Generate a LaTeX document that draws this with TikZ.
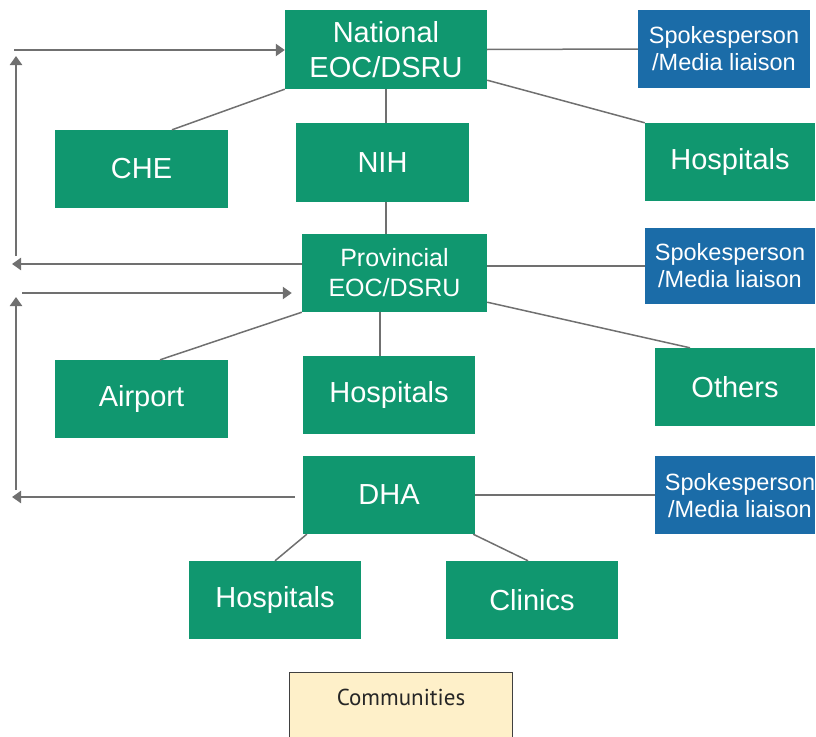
\documentclass[tikz,border=0pt]{standalone}
\usepackage{fontspec}
\setmainfont{Liberation Sans}
\newfontfamily\commfont{PT Sans}
\usetikzlibrary{arrows.meta,positioning,calc}
\definecolor{boxgreen}{HTML}{10976F}
\definecolor{boxblue}{HTML}{1B6CA8}
\definecolor{linegray}{HTML}{707070}
\definecolor{commfill}{HTML}{FEF0C9}

\begin{document}
\begin{tikzpicture}[x = 1pt, y = -1pt,
  greenbox/.style={rectangle,fill=boxgreen,text=white,inner sep=0pt,align=center,font=\fontsize{29}{35}\selectfont},
  bluebox/.style={rectangle,fill=boxblue,text=white,inner sep=0pt,align=center,font=\fontsize{23.5}{27}\selectfont},
  link/.style={draw=linegray,line width=1.5pt},
  flow/.style={draw=linegray,line width=2.3pt,-{Triangle[length=9pt,width=12pt]}}]
\path[use as bounding box] (0,0) rectangle (816,736);
\node[greenbox,minimum width=202pt,minimum height=79pt] (national) at (386,49.5) {National\\EOC/DSRU};
\node[bluebox,minimum width=172pt,minimum height=78pt] (spknat) at (724,49) {Spokesperson\\/Media liaison};
\node[greenbox,minimum width=173pt,minimum height=78pt] (che) at (141.5,169) {CHE};
\node[greenbox,minimum width=173pt,minimum height=79pt] (nih) at (382.5,162.5) {NIH};
\node[greenbox,minimum width=170pt,minimum height=78pt] (hospnat) at (730,162) {Hospitals};
\node[greenbox,minimum width=185pt,minimum height=78pt,font=\fontsize{25}{30}\selectfont] (provincial) at (394.5,273) {Provincial\\EOC/DSRU};
\node[bluebox,minimum width=170pt,minimum height=76pt] (spkprov) at (730,266) {Spokesperson\\/Media liaison};
\node[greenbox,minimum width=173pt,minimum height=78pt] (airport) at (141.5,399) {Airport};
\node[greenbox,minimum width=172pt,minimum height=78pt] (hospprov) at (389,395) {Hospitals};
\node[greenbox,minimum width=160pt,minimum height=78pt] (others) at (735,387) {Others};
\node[greenbox,minimum width=172pt,minimum height=78pt] (dha) at (389,495) {DHA};
\node[bluebox,minimum width=160pt,minimum height=78pt] (spkdha) at (735,495) {};
\node[text=white,align=center,inner sep=0pt,font=\fontsize{23.5}{27}\selectfont] (spkdhatext) at (740,496) {Spokesperson\\/Media liaison};
\node[greenbox,minimum width=172pt,minimum height=78pt] (hospdha) at (275,600) {Hospitals};
\node[greenbox,minimum width=172pt,minimum height=78pt] (clinics) at (532,600) {Clinics};
\node[rectangle,draw=black!75,line width=1pt,fill=commfill,minimum width=223pt,minimum height=76pt,anchor=north] (communities) at (400.5,672) {};
\node[font=\commfont\fontsize{23}{27}\selectfont,text=black!85] (commtext) at (401,697) {Communities};
% links
\draw[link] (national.east) -- (spknat.west);
\draw[link] (national.south west) -- ([xshift=30.5pt]che.north);
\draw[link] (national.south) -- (national.south |- nih.north);
\draw[link] ($(national.south east)+(0,-9)$) -- (hospnat.north west);
\draw[link] (nih.south -| national.south) -- (provincial.north -| national.south);
\draw[link] (provincial.east |- spkprov.west) -- (spkprov.west);
\draw[link] (provincial.south west) -- ([xshift=18.5pt]airport.north);
\draw[link] ([xshift=-9pt]hospprov.north |- provincial.south) -- ([xshift=-9pt]hospprov.north);
\draw[link] ($(provincial.south east)+(0,-10)$) -- ([xshift=-45pt]others.north);
\draw[link] (dha.east) -- (spkdha.west);
\draw[link] ([xshift=4pt]dha.south west) -- (hospdha.north);
\draw[link] ([xshift=-2pt]dha.south east) -- ([xshift=-4pt]clinics.north);
% report-back loops
\coordinate (provout) at (12,264);
\coordinate (natlow) at (16,256);
\coordinate (nattop) at (16,56);
\coordinate (natin) at (14,50);
\coordinate (dhaout) at (12,497);
\coordinate (provlow) at (16,490);
\coordinate (provtop) at (16,297);
\coordinate (provin) at (22,293);
\draw[flow] ($(provincial.west)+(0,-9)$) -- (provout);
\draw[flow] (natlow) -- (nattop);
\draw[flow] (natin) -- (natin -| national.west);
\draw[flow] ($(dha.west)+(-8,2)$) -- (dhaout);
\draw[flow] (provlow) -- (provtop);
\draw[flow] (provin) -- ($(provin -| provincial.west)+(-10,0)$);
\end{tikzpicture}
\end{document}
